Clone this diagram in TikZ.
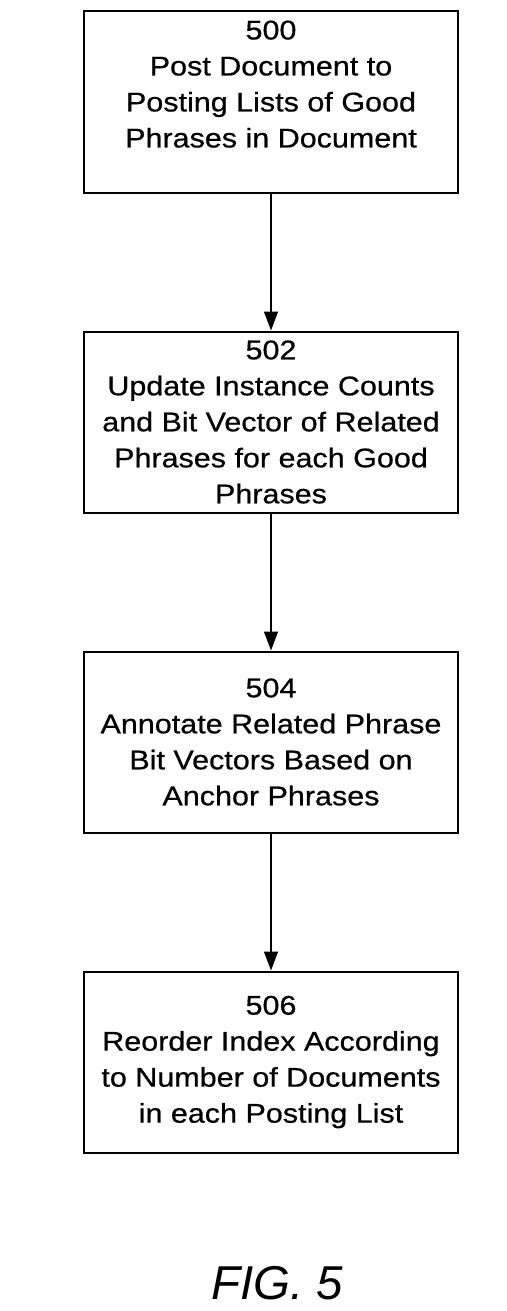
\documentclass[tikz,border=0pt]{standalone}
\usepackage{fontspec}
\setmainfont{Liberation Sans}
\newfontfamily\boxfont{Liberation Sans}[FakeStretch=1.13, FakeBold=0.6]
\usepackage{tikz}
\usetikzlibrary{
  arrows.meta,
  positioning
}
\definecolor{patblack}{RGB}{0,0,0}
\tikzset{
  block/.style={
    rectangle, draw=patblack, line width=2pt, fill=white,
    minimum width=374pt, minimum height=181pt, inner sep=0pt,
    align=center, font=\boxfont\fontsize{27}{36}\selectfont
  },
  arrow/.style={-{Triangle[length=19pt, width=14pt]}, line width=1.3pt, color=patblack},
  figlabel/.style={
    inner sep=0pt, font=\itshape\fontsize{47.5}{50}\selectfont
  }
}

\begin{document}
\begin{tikzpicture}[node distance=137pt]
  \useasboundingbox (0,0) rectangle (506pt,-1311pt);

  \node[block] (post) at (271pt,-102pt)
    {500\\Post Document to\\Posting Lists of Good\\Phrases in Document\\ \mbox{}};
  \node[block, below=of post] (update)
    {502\\Update Instance Counts\\and Bit Vector of Related\\Phrases for each Good\\Phrases};
  \node[block, below=of update] (annot)
    {504\\Annotate Related Phrase\\Bit Vectors Based on\\Anchor Phrases};
  \node[block, below=of annot] (reorder)
    {506\\Reorder Index According\\to Number of Documents\\in each Posting List};

  \node[figlabel, below=146pt of reorder, anchor=base, xshift=6pt] (fig) {FIG. 5};

  \foreach \a/\b in {post/update, update/annot, annot/reorder}
    \draw[arrow] (\a) -- (\b);
\end{tikzpicture}
\end{document}
